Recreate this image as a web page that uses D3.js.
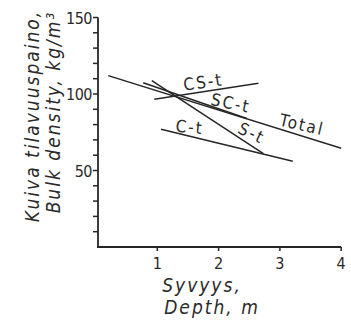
<!DOCTYPE html>
<html>
<head>
<meta charset="utf-8">
<script src="https://cdn.jsdelivr.net/npm/d3@7"></script>
<style>
  body { margin: 0; background: #fff; }
  svg { display: block; }
  text { font-family: "DejaVu Sans Condensed", "DejaVu Sans", sans-serif; fill: #2a2a2a; }
</style>
</head>
<body>
<svg id="chart" width="351" height="328"></svg>
<script>
const width = 351;
const height = 328;

// tick values
const xTicks = [1, 2, 3, 4];
const yMajor = [50, 100, 150];
const yMinor = [10, 20, 30, 40, 60, 70, 80, 90, 110, 120, 130, 140];

// regression lines: [depth, density] at both ends
const seriesNames = ['Total', 'CS-t', 'SC-t', 'S-t', 'C-t'];
const seriesStart = [[0.2, 112], [0.95, 96.5], [0.77, 107.4], [0.91, 108.7], [1.06, 77]];
const seriesEnd = [[4.0, 64.5], [2.65, 107], [2.46, 84], [2.73, 61], [3.21, 56]];

// label anchors (data coords) and slant
const labelPos = [[3.36, 80], [1.75, 107.8], [2.2, 94.1], [2.54, 74.5], [1.53, 78.4]];
const labelAngle = [13, -8, 12, 26, 5];

const margin = { left: 96, top: 17.5, bottom: 81 };
const x = d3.scaleLinear().domain([0, 4]).range([margin.left, margin.left + 61.3 * 4]);
const y = d3.scaleLinear().domain([0, 150]).range([height - margin.bottom, margin.top]);

const svg = d3.select('#chart');
const ink = '#262626';

// y axis
const yAxis = svg.append('g').attr('transform', `translate(${x(0) + 2},0)`);
yAxis.append('line')
  .attr('x1', 0).attr('x2', 0)
  .attr('y1', y(0)).attr('y2', y(150))
  .attr('stroke', ink).attr('stroke-width', 1.8);
yAxis.selectAll('line.minor').data(yMinor.concat(yMajor)).enter()
  .append('line').classed('minor', true)
  .attr('x1', -5).attr('x2', 0)
  .attr('y1', d => y(d)).attr('y2', d => y(d))
  .attr('stroke', ink).attr('stroke-width', 1.5);
yAxis.selectAll('text').data(yMajor).enter()
  .append('text')
  .attr('x', -6).attr('y', d => y(d) + 6)
  .attr('text-anchor', 'end')
  .attr('font-size', 16)
  .attr('letter-spacing', -0.5)
  .text(d => d);

// x axis
const xAxis = svg.append('g').attr('transform', `translate(0,${y(0)})`);
xAxis.append('line')
  .attr('x1', x(0) + 1).attr('x2', x(4))
  .attr('y1', 0).attr('y2', 0)
  .attr('stroke', ink).attr('stroke-width', 1.8);
xAxis.selectAll('line.tick').data(xTicks).enter()
  .append('line').classed('tick', true)
  .attr('x1', d => x(d)).attr('x2', d => x(d))
  .attr('y1', 0).attr('y2', 4)
  .attr('stroke', ink).attr('stroke-width', 1.5);
xAxis.selectAll('text').data(xTicks).enter()
  .append('text')
  .attr('x', d => x(d)).attr('y', 22)
  .attr('text-anchor', 'middle')
  .attr('font-size', 16)
  .text(d => d);

// axis titles
const titleStyle = sel => sel
  .attr('text-anchor', 'middle')
  .attr('font-size', 19)
  .attr('font-style', 'italic')
  .attr('letter-spacing', 2);

svg.append('text').call(titleStyle)
  .attr('x', 202).attr('y', 292)
  .text('Syvyys,');
svg.append('text').call(titleStyle)
  .attr('x', 212).attr('y', 314)
  .text('Depth, m');

const yTitle = svg.append('g').attr('transform', 'translate(0,116) rotate(-90)');
yTitle.append('text').call(titleStyle)
  .attr('x', 0).attr('y', 39)
  .text('Kuiva tilavuuspaino,');
yTitle.append('text').call(titleStyle)
  .attr('x', 4).attr('y', 60)
  .text('Bulk density, kg/m³');

// lines
const lines = seriesNames.map((name, i) => ({ name, pts: [seriesStart[i], seriesEnd[i]] }));
const line = d3.line().x(d => x(d[0])).y(d => y(d[1]));
svg.append('g').selectAll('path').data(lines).enter()
  .append('path')
  .attr('d', d => line(d.pts))
  .attr('fill', 'none')
  .attr('stroke', ink)
  .attr('stroke-width', 1.5);

// line labels
svg.append('g').selectAll('text').data(seriesNames).enter()
  .append('text')
  .attr('transform', (d, i) => `translate(${x(labelPos[i][0])},${y(labelPos[i][1])}) rotate(${labelAngle[i]})`)
  .attr('text-anchor', 'middle')
  .attr('dy', '0.35em')
  .attr('font-size', 17)
  .attr('letter-spacing', 2)
  .text(d => d);
</script>
</body>
</html>
